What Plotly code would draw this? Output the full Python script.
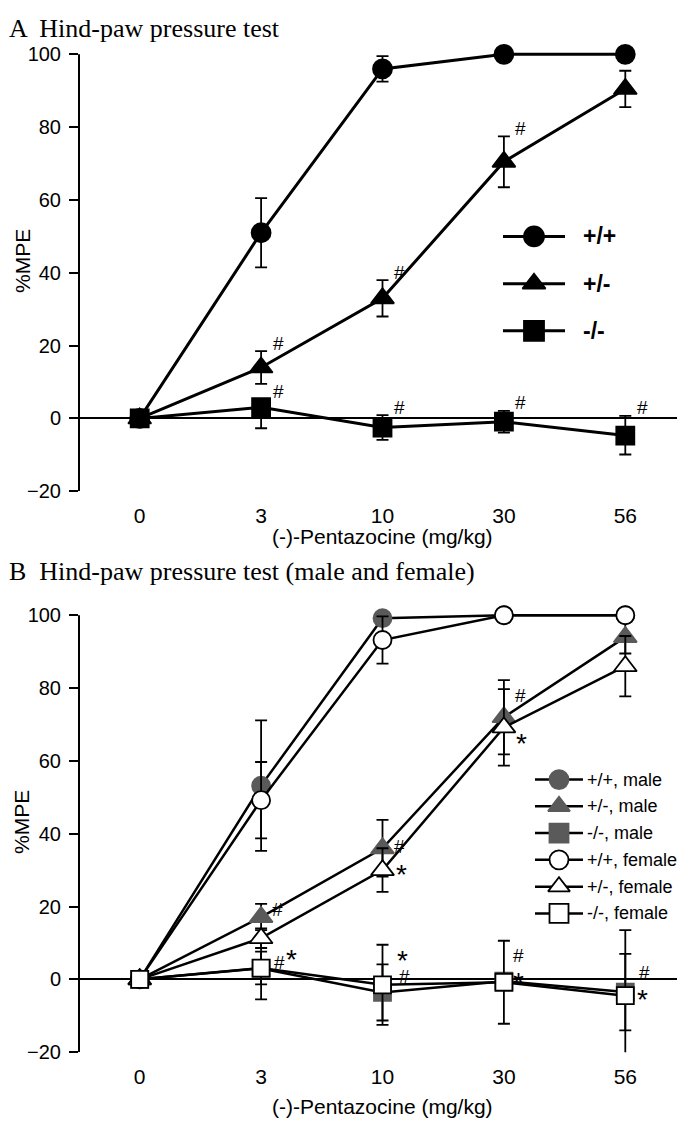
import plotly.graph_objects as go

W, H = 685, 1126

# ---------------- data ----------------
X_LABELS = ["0", "3", "10", "30", "56"]
X_IDX = [0, 1, 2, 3, 4]
Y_TICKS = [-20, 0, 20, 40, 60, 80, 100]
Y_MIN, Y_MAX = -20, 100

# Panel A
A_WT = [0, 51, 96, 100, 100]
A_WT_ERR = [0, 9.5, 3.5, 0, 0]
A_HET = [0, 14, 33, 70.5, 90.5]
A_HET_ERR = [0, 4.5, 5, 7, 5]
A_KO = [0, 3.1, -2.5, -0.9, -4.7]
A_KO_ERR_UP = [0, 2, 3.4, 3, 5.4]
A_KO_ERR_DN = [0, 5.8, 3.4, 3, 5.2]

# Panel B
B_WT_M = [0, 53.2, 99.2, 100, 100]
B_WT_M_ERR = [0, 17.9, 1, 0, 0]
B_HET_M = [0, 17.1, 36, 72, 94]
B_HET_M_ERR = [0, 3.6, 7.8, 10.2, 4.5]
B_KO_M = [0, 3, -3.6, -0.5, -3.5]
B_KO_M_ERR = [0, 8.5, 7.7, 1, 10.5]
B_WT_F = [0, 49.2, 93.2, 100, 100]
B_WT_F_ERR = [0, 10.5, 6.5, 0, 0]
B_HET_F = [0, 11.3, 30, 69.2, 86]
B_HET_F_ERR = [0, 2.7, 6, 10.5, 8.3]
B_KO_F = [0, 3.1, -1.5, -0.8, -4.5]
B_KO_F_ERR = [0, 4.5, 11, 11.4, 18]

# significance marks
A_SIG = [
    ("het", 1, "#"), ("het", 2, "#"), ("het", 3, "#"),
    ("ko", 1, "#"), ("ko", 2, "#"), ("ko", 3, "#"), ("ko", 4, "#"),
]
B_SIG = [
    ("het_m", 1, "#", 16, 8), ("het_m", 2, "#", 17, 2), ("het_m", 3, "#", 17, 22),
    ("het_f", 2, "*", 19, 2), ("het_f", 3, "*", 18, -10),
    ("ko_f", 1, "#", 18, 6), ("ko_f", 1, "*", 30, 15),
    ("ko_f", 2, "*", 20, 30), ("ko_f", 2, "#", 22, 8),
    ("ko_f", 3, "#", 15, 27), ("ko_f", 3, "*", 15, 6),
    ("ko_f", 4, "#", 19, 23), ("ko_f", 4, "*", 17, 2),
]

GRAY = "#5a5a5a"
FONT = "Liberation Sans, Arial, sans-serif"
SERIF = "Liberation Serif, Times New Roman, serif"

# ---------------- layout geometry (pixels) ----------------
PL, PR = 71, 678
A_T, A_B = 40, 484          # pixel rows of y=100 and y=-20 in panel A
B_T, B_B = 610, 1054        # same for panel B
PAD = 1.2                   # extra data units above 100 so thick lines are not clipped
PPU = (A_B - A_T) / (Y_MAX - Y_MIN)


def fx(p):
    return p / W


def fy(p):
    return 1 - p / H


fig = go.Figure()


def add_series(y, err_up, err_dn, xa, ya, symbol, size, fill, line_color, lw, name):
    fig.add_trace(go.Scatter(
        x=X_IDX, y=y, xaxis=xa, yaxis=ya, name=name, mode="lines+markers",
        line=dict(color="black", width=lw),
        marker=dict(symbol=symbol, size=size, color=fill,
                    line=dict(color=line_color, width=1.8)),
        error_y=dict(type="data", array=err_up, arrayminus=err_dn,
                     color="black", thickness=1.8, width=6),
        cliponaxis=False, showlegend=False,
    ))


# Panel A
add_series(A_WT, A_WT_ERR, A_WT_ERR, "x", "y", "circle", 19, "black", "black", 3, "+/+")
add_series(A_HET, A_HET_ERR, A_HET_ERR, "x", "y", "triangle-up", 20, "black", "black", 3, "+/-")
add_series(A_KO, A_KO_ERR_UP, A_KO_ERR_DN, "x", "y", "square", 18, "black", "black", 3, "-/-")

# Panel B (male first, female on top)
add_series(B_WT_M, B_WT_M_ERR, B_WT_M_ERR, "x2", "y2", "circle", 18, GRAY, GRAY, 2.5, "+/+, male")
add_series(B_HET_M, B_HET_M_ERR, B_HET_M_ERR, "x2", "y2", "triangle-up", 20, GRAY, GRAY, 2.5, "+/-, male")
add_series(B_KO_M, B_KO_M_ERR, B_KO_M_ERR, "x2", "y2", "square", 17, GRAY, GRAY, 2.5, "-/-, male")
add_series(B_WT_F, B_WT_F_ERR, B_WT_F_ERR, "x2", "y2", "circle", 18, "white", "black", 2.5, "+/+, female")
add_series(B_HET_F, B_HET_F_ERR, B_HET_F_ERR, "x2", "y2", "triangle-up", 20, "white", "black", 2.5, "+/-, female")
add_series(B_KO_F, B_KO_F_ERR, B_KO_F_ERR, "x2", "y2", "square", 17, "white", "black", 2.5, "-/-, female")

# ---------------- manual legends (pixel overlay axes) ----------------
LEG_A = [("+/+", "circle", "black", "black"), ("+/-", "triangle-up", "black", "black"),
         ("-/-", "square", "black", "black")]
LEG_B = [("+/+, male", "circle", GRAY, GRAY), ("+/-, male", "triangle-up", GRAY, GRAY),
         ("-/-, male", "square", GRAY, GRAY), ("+/+, female", "circle", "white", "black"),
         ("+/-, female", "triangle-up", "white", "black"), ("-/-, female", "square", "white", "black")]

annotations = []


def draw_legend(entries, x0, x1, y0, dy, msize, lw, fsize, tx, bold=False):
    for k, (lab, sym, fill, lc) in enumerate(entries):
        yy = y0 + k * dy
        fig.add_trace(go.Scatter(x=[x0, x1], y=[yy, yy], xaxis="x3", yaxis="y3", mode="lines",
                                 line=dict(color="black", width=lw), showlegend=False,
                                 hoverinfo="skip", cliponaxis=False))
        fig.add_trace(go.Scatter(x=[(x0 + x1) / 2], y=[yy], xaxis="x3", yaxis="y3", mode="markers",
                                 marker=dict(symbol=sym, size=msize, color=fill,
                                             line=dict(color=lc, width=1.8)),
                                 showlegend=False, hoverinfo="skip", cliponaxis=False))
        annotations.append(dict(x=fx(tx), y=fy(yy), xref="paper", yref="paper",
                                text=f"<b>{lab}</b>" if bold else lab,
                                showarrow=False, xanchor="left", yanchor="middle", borderpad=0,
                                font=dict(family=FONT, size=fsize, color="black")))


draw_legend(LEG_A, 495, 557, 225, 48, 20, 3, 23, 574, bold=True)
draw_legend(LEG_B, 527, 575, 777, 27.2, 19, 2.5, 18, 578)

# ---------------- significance annotations ----------------
STAR_DROP = -6   # asterisk glyph sits high in its box
A_SER = {"het": (A_HET, A_HET_ERR), "ko": (A_KO, A_KO_ERR_UP)}
for ser, i, t in A_SIG:
    vals, up = A_SER[ser]
    annotations.append(dict(x=X_IDX[i], y=vals[i] + up[i], xref="x", yref="y", text=t,
                            showarrow=False, xanchor="center", yanchor="middle", borderpad=0,
                            xshift=17, yshift=8, font=dict(family=FONT, size=19, color="black")))

B_SER = {"het_m": B_HET_M, "het_f": B_HET_F, "ko_f": B_KO_F}
for ser, i, t, xs, ys in B_SIG:
    vals = B_SER[ser]
    annotations.append(dict(x=X_IDX[i], y=vals[i], xref="x2", yref="y2", text=t,
                            showarrow=False, xanchor="center", yanchor="middle",
                            xshift=xs, yshift=ys + (STAR_DROP if t == "*" else 0), borderpad=0,
                            font=dict(family=FONT, size=19 if t == "#" else 28, color="black")))

# ---------------- titles ----------------
annotations += [
    dict(x=0, y=fy(14), xref="paper", yref="paper", text="A  Hind-paw pressure test",
         showarrow=False, xanchor="left", yanchor="middle", borderpad=0,
         font=dict(family=SERIF, size=26, color="black")),
    dict(x=0, y=fy(566), xref="paper", yref="paper",
         text="B  Hind-paw pressure test (male and female)",
         showarrow=False, xanchor="left", yanchor="middle", borderpad=0,
         font=dict(family=SERIF, size=26, color="black")),
    dict(x=fx((PL + PR) / 2), y=fy(A_B + 46), xref="paper", yref="paper",
         text="(-)-Pentazocine (mg/kg)", showarrow=False, xanchor="center", yanchor="middle",
         font=dict(family=FONT, size=21, color="black")),
    dict(x=fx((PL + PR) / 2), y=fy(B_B + 55), xref="paper", yref="paper",
         text="(-)-Pentazocine (mg/kg)", showarrow=False, xanchor="center", yanchor="middle",
         font=dict(family=FONT, size=21, color="black")),
    dict(x=fx(14), y=fy(250), xref="paper", yref="paper", text="%MPE", textangle=-90,
         showarrow=False, xanchor="center", yanchor="middle",
         font=dict(family=FONT, size=21, color="black")),
    dict(x=fx(14), y=fy(820), xref="paper", yref="paper", text="%MPE", textangle=-90,
         showarrow=False, xanchor="center", yanchor="middle",
         font=dict(family=FONT, size=21, color="black")),
]

# vertical axis lines drawn from -20 to 100 only (range is padded above 100)
shapes = [
    dict(type="line", xref="x domain", yref="y", x0=0, x1=0, y0=Y_MIN, y1=Y_MAX,
         line=dict(color="black", width=2)),
    dict(type="line", xref="x2 domain", yref="y2", x0=0, x1=0, y0=Y_MIN, y1=Y_MAX,
         line=dict(color="black", width=2)),
]

xaxis_common = dict(range=[-0.5, 4.5], tickvals=X_IDX, ticktext=X_LABELS, showline=False,
                    zeroline=False, showgrid=False, ticks="", ticklabelstandoff=10,
                    tickfont=dict(family=FONT, size=21, color="black"), fixedrange=True)
yaxis_common = dict(range=[Y_MIN, Y_MAX + PAD], tickvals=Y_TICKS, showline=False,
                    ticks="outside", ticklen=9, tickwidth=2, tickcolor="black",
                    zeroline=True, zerolinecolor="black", zerolinewidth=2, showgrid=False,
                    ticklabelstandoff=4,
                    tickfont=dict(family=FONT, size=20, color="black"), fixedrange=True)

pad_px = PAD * PPU
fig.update_layout(
    width=W, height=H, margin=dict(l=0, r=0, t=0, b=0),
    paper_bgcolor="white", plot_bgcolor="rgba(0,0,0,0)", showlegend=False,
    xaxis=dict(domain=[fx(PL), fx(PR)], anchor="y", **xaxis_common),
    yaxis=dict(domain=[fy(A_B), fy(A_T - pad_px)], anchor="x", **yaxis_common),
    xaxis2=dict(domain=[fx(PL), fx(PR)], anchor="y2", **xaxis_common),
    yaxis2=dict(domain=[fy(B_B), fy(B_T - pad_px)], anchor="x2", **yaxis_common),
    xaxis3=dict(domain=[0, 1], range=[0, W], visible=False, anchor="y3", fixedrange=True),
    yaxis3=dict(domain=[0, 1], range=[H, 0], visible=False, anchor="x3", fixedrange=True),
    shapes=shapes,
    annotations=annotations,
)

fig.write_html("out.html")
